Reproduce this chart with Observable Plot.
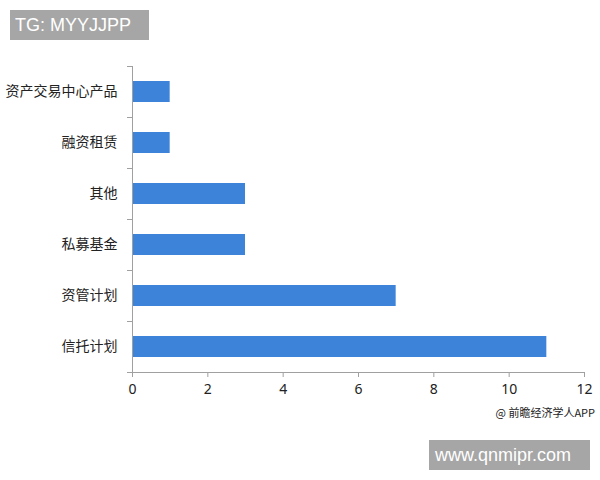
<!DOCTYPE html>
<html>
<head>
<meta charset="utf-8">
<script src="https://cdn.jsdelivr.net/npm/d3@7"></script>
<script src="https://cdn.jsdelivr.net/npm/@observablehq/plot@0.6"></script>
<style>
  html, body { margin: 0; padding: 0; background: #fff; }
  #wrap { position: relative; width: 600px; height: 480px; overflow: hidden; }
  #chart { position: absolute; left: 0; top: 0; }
  .box { position: absolute; background: #a6a6a6; color: #fff; font-family: "Liberation Sans", Arial, sans-serif; font-size: 18px; line-height: 30px; white-space: nowrap; }
  #tg { left: 10px; top: 10px; width: 139px; height: 30px; padding-left: 5px; box-sizing: border-box; }
  #site { left: 429px; top: 440px; width: 161px; height: 30px; padding-left: 6px; box-sizing: border-box; }
  #src { position: absolute; right: 5px; top: 404px; font-family: "Noto Sans CJK SC", sans-serif; font-size: 11px; color: #222; white-space: nowrap; }
</style>
</head>
<body>
<div id="wrap">
  <div id="chart"></div>
  <div class="box" id="tg">TG: MYYJJPP</div>
  <div class="box" id="site">www.qnmipr.com</div>
  <div id="src">@ 前瞻经济学人APP</div>
</div>
<script>
const categories = ["资产交易中心产品", "融资租赁", "其他", "私募基金", "资管计划", "信托计划"];
const values = [1, 1, 3, 3, 7, 11];
const xTicks = [0, 2, 4, 6, 8, 10, 12];

const data = categories.map((c, i) => ({category: c, value: values[i]}));
const axisColor = "#a0a0a0";

function axisLines(index, scales, values, dimensions) {
  const y = scales.y;
  const x = scales.x;
  const step = y.step();
  const bw = y.bandwidth();
  const off = (step - bw) / 2;
  const x0 = x(xTicks[0]);
  const x1 = x(xTicks[xTicks.length - 1]);
  const ys = categories.map(c => y(c) - off);
  ys.push(y(categories[categories.length - 1]) + bw + off);
  const yBottom = ys[ys.length - 1];
  const g = d3.create("svg:g").attr("stroke", axisColor).attr("stroke-width", 1).attr("shape-rendering", "crispEdges");
  for (const yy of ys) {
    g.append("line").attr("x1", x0 - 5).attr("x2", x0).attr("y1", yy).attr("y2", yy);
  }
  g.append("line").attr("x1", x0).attr("x2", x0).attr("y1", ys[0]).attr("y2", yBottom);
  g.append("line").attr("x1", x0).attr("x2", x1).attr("y1", yBottom).attr("y2", yBottom);
  return g.node();
}

const chart = Plot.plot({
  width: 600,
  height: 480,
  marginLeft: 132,
  marginRight: 16,
  marginTop: 65,
  marginBottom: 108,
  style: {fontFamily: "'Noto Sans CJK SC', 'Noto Sans', sans-serif", fontSize: "14px", color: "#222", background: "transparent"},
  x: {domain: [0, 12], ticks: xTicks, label: null},
  y: {domain: categories, paddingInner: 0.59, paddingOuter: 0.295, label: null},
  marks: [
    Plot.barX(data, {x: "value", y: "category", fill: "#3d83da"}),
    Plot.axisY({tickSize: 0, tickPadding: 15, fontSize: 14, fill: "#222", label: null}),
    Plot.axisX({ticks: xTicks, tickSize: 5, tickPadding: 7, stroke: axisColor, fontSize: 14, fill: "#222", fontFamily: "'Noto Sans', sans-serif", label: null}),
    axisLines
  ]
});
document.getElementById("chart").appendChild(chart);
</script>
</body>
</html>
